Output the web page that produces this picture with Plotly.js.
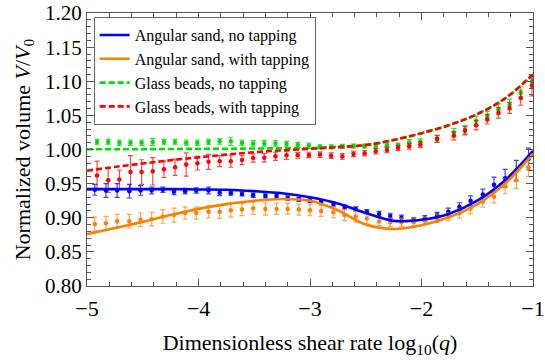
<!DOCTYPE html>
<html>
<head>
<meta charset="utf-8">
<script src="https://cdn.plot.ly/plotly-3.0.1.min.js"></script>
<style>html,body{margin:0;padding:0;background:#fff;}#chart{width:545px;height:362px;}</style>
</head>
<body>
<div id="chart"></div>
<script>
// ---- Data ----
const glassX = [-4.91,-4.81,-4.71,-4.61,-4.51,-4.41,-4.31,-4.21,-4.11,-4.01,
  -3.91,-3.81,-3.71,-3.61,-3.51,-3.41,-3.31,-3.21,-3.11,-3.01,
  -2.91,-2.81,-2.71,-2.61,-2.51,-2.41,-2.31,-2.21,-2.11,-2.01,
  -1.86,-1.71,-1.61,-1.51,-1.41,-1.31,-1.21,-1.11,-1.01];
const greenY = [1.011,1.011,1.010,1.010,1.010,1.011,1.011,1.011,1.010,1.010,
  1.011,1.012,1.012,1.010,1.009,1.009,1.009,1.008,1.0065,1.0055,
  1.004,1.004,1.0046,1.005,1.005,1.005,1.0066,1.0066,1.0105,1.0115,
  1.016,1.025,1.029,1.042,1.049,1.059,1.066,1.083,1.100];
const greenErr = [0.004,0.004,0.004,0.004,0.004,0.005,0.004,0.004,0.004,0.004,
  0.004,0.004,0.006,0.004,0.004,0.004,0.004,0.004,0.004,0.004,
  0.003,0.003,0.003,0.003,0.003,0.003,0.003,0.003,0.004,0.004,
  0.005,0.006,0.006,0.007,0.007,0.008,0.008,0.009,0.010];
const redY = [0.962,0.955,0.956,0.967,0.967,0.968,0.971,0.974,0.978,0.980,
  0.982,0.983,0.983,0.9845,0.9875,0.988,0.990,0.9915,0.9915,0.992,
  0.9926,0.991,0.990,0.9936,0.9946,0.9975,0.9994,1.0023,1.0047,1.0071,
  1.0154,1.0202,1.0275,1.0357,1.0444,1.054,1.061,1.0759,1.0937];
const redErr = [0.021,0.018,0.014,0.024,0.018,0.020,0.012,0.012,0.017,0.010,
  0.011,0.008,0.009,0.0065,0.006,0.006,0.006,0.006,0.004,0.004,
  0.004,0.004,0.004,0.004,0.004,0.004,0.004,0.004,0.004,0.004,
  0.005,0.006,0.006,0.007,0.007,0.008,0.008,0.011,0.015];

const sandX = [-4.93,-4.83,-4.73,-4.62,-4.52,-4.42,-4.32,-4.22,-4.12,-4.02,
  -3.91,-3.81,-3.71,-3.61,-3.51,-3.40,-3.30,-3.20,-3.10,-3.00,
  -2.90,-2.79,-2.69,-2.59,-2.49,-2.38,-2.28,-2.18,-2.07,-1.97,
  -1.86,-1.76,-1.66,-1.56,-1.45,-1.35,-1.25,-1.15,-1.04];
const blueY = [0.941,0.940,0.940,0.939,0.940,0.940,0.941,0.938,0.939,0.940,
  0.940,0.9365,0.936,0.935,0.933,0.932,0.932,0.929,0.927,0.925,
  0.923,0.920,0.916,0.913,0.909,0.9055,0.9026,0.900,0.8968,0.899,
  0.904,0.909,0.916,0.925,0.934,0.9485,0.958,0.969,0.986];
const blueErr = [0.008,0.010,0.010,0.010,0.007,0.005,0.004,0.004,0.004,0.004,
  0.005,0.004,0.003,0.003,0.003,0.003,0.003,0.003,0.003,0.003,
  0.003,0.003,0.003,0.003,0.003,0.004,0.004,0.004,0.003,0.004,
  0.004,0.005,0.006,0.007,0.008,0.011,0.013,0.015,0.016];
const orangeY = [0.891,0.892,0.895,0.895,0.897,0.898,0.902,0.904,0.907,0.907,
  0.909,0.909,0.911,0.912,0.914,0.913,0.913,0.913,0.912,0.911,
  0.910,0.908,0.904,0.902,0.899,0.8944,0.8934,0.8934,0.8934,0.8958,
  0.8992,0.9016,0.9065,0.9137,0.9234,0.9307,0.9462,0.955,0.9742];
const orangeErr = [0.010,0.010,0.010,0.010,0.010,0.010,0.010,0.010,0.009,0.009,
  0.009,0.010,0.010,0.009,0.009,0.009,0.008,0.008,0.008,0.008,
  0.008,0.008,0.008,0.008,0.008,0.006,0.006,0.006,0.005,0.005,
  0.006,0.006,0.007,0.008,0.008,0.009,0.011,0.012,0.014];

// fitted curves
const fitX = [-5,-4.75,-4.5,-4.25,-4,-3.75,-3.5,-3.25,-3,-2.75,-2.5,-2.25,-2,-1.75,-1.5,-1.25,-1];
const fitBlue = [0.942,0.942,0.942,0.942,0.9415,0.941,0.939,0.936,0.930,0.921,0.907,0.8955,0.897,0.906,0.925,0.955,0.998];
const fitOrange = [0.876,0.885,0.894,0.904,0.913,0.920,0.925,0.9275,0.925,0.911,0.890,0.8835,0.889,0.901,0.920,0.950,0.994];
const fitGreen = [1.0005,1.0005,1.0005,1.0008,1.001,1.0012,1.0015,1.0018,1.002,1.004,1.0065,1.014,1.024,1.036,1.052,1.075,1.110];
const fitRed = [0.969,0.9745,0.9795,0.9843,0.9885,0.9925,0.996,0.9988,1.001,1.0035,1.0065,1.014,1.024,1.036,1.052,1.075,1.110];

const legendNames = ["Angular sand, no tapping","Angular sand, with tapping","Glass beads, no tapping","Glass beads, with tapping"];

const C = {blue:"#0000ff", orange:"#ff8000", green:"#00e000", red:"#ff0000"};
const CE = {blue:"rgba(0,0,230,0.75)", orange:"rgba(255,128,0,0.7)", green:"rgba(0,200,0,0.75)", red:"rgba(235,0,0,0.7)"};

function pts(x, y, e, key){
  return {x:x, y:y, type:"scatter", mode:"markers", showlegend:false, hoverinfo:"skip",
    marker:{size:4.5, color:C[key]},
    error_y:{type:"data", array:e, visible:true, color:CE[key], thickness:1.2, width:2.5}};
}
function fit(y, key, dash, name){
  return {x:fitX, y:y, type:"scatter", mode:"lines", name:name,
    line:{color:C[key], width:2.6, dash:dash, shape:"spline", smoothing:1}};
}

const traces = [
  pts(glassX, greenY, greenErr, "green"),
  pts(glassX, redY, redErr, "red"),
  pts(sandX, blueY, blueErr, "blue"),
  pts(sandX, orangeY, orangeErr, "orange"),
  fit(fitBlue, "blue", "solid", legendNames[0]),
  fit(fitOrange, "orange", "solid", legendNames[1]),
  fit(fitGreen, "green", "6px,3px", legendNames[2]),
  fit(fitRed, "red", "6px,3px", legendNames[3])
];

const axCol = "#555";
const F = "'Liberation Serif', 'Times New Roman', 'DejaVu Serif', serif";
const layout = {
  width:545, height:362,
  margin:{l:87, r:12, t:13, b:76},
  paper_bgcolor:"#fff", plot_bgcolor:"#fff",
  font:{family:F, color:"#000", size:21},
  showlegend:true,
  legend:{x:0.015, y:0.985, xanchor:"left", yanchor:"top", bgcolor:"#fff",
    bordercolor:"#666", borderwidth:1, font:{family:F, size:16, color:"#000"},
    itemwidth:30, tracegroupgap:0},
  xaxis:{range:[-5,-1], tick0:-5, dtick:1, ticks:"inside", ticklen:7, tickwidth:1, tickcolor:axCol,
    showline:true, linecolor:axCol, linewidth:1, mirror:"allticks", showgrid:false, zeroline:false,
    minor:{dtick:0.2, ticks:"inside", ticklen:4, tickcolor:axCol, showgrid:false},
    tickfont:{family:F, size:22, color:"#000"}, ticklabelstandoff:3,
    title:{text:"Dimensionless shear rate log<sub>10</sub>(<i>q</i>)", font:{family:F, size:22, color:"#000"}, standoff:14}},
  yaxis:{range:[0.8,1.2001], tick0:0.8, dtick:0.05, tickformat:".2f", ticks:"inside", ticklen:7, tickwidth:1, tickcolor:axCol,
    showline:true, linecolor:axCol, linewidth:1, mirror:"allticks", showgrid:false, zeroline:false,
    minor:{dtick:0.01, ticks:"inside", ticklen:4, tickcolor:axCol, showgrid:false},
    tickfont:{family:F, size:21, color:"#000"}, ticklabeloverflow:"allow",
    title:{text:"Normalized volume <i>V</i>/<i>V</i><sub>0</sub>", font:{family:F, size:22, color:"#000"}, standoff:8}}
};

Plotly.newPlot("chart", traces, layout, {staticPlot:true, displayModeBar:false});
</script>
</body>
</html>
